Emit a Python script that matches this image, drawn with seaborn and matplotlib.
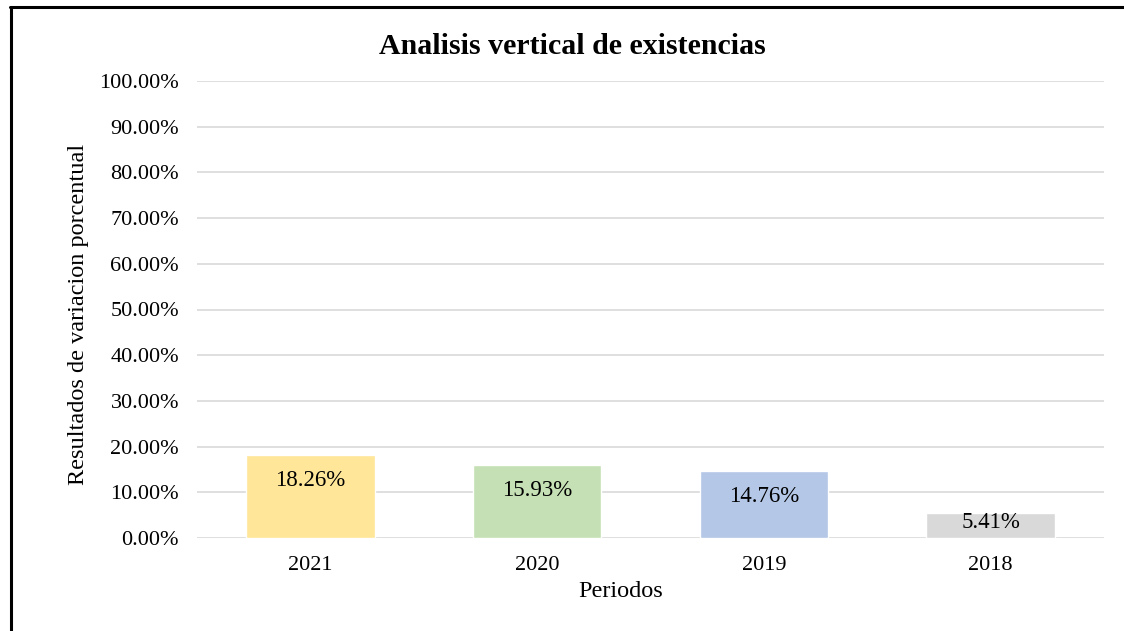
import matplotlib
matplotlib.use("Agg")
import matplotlib.pyplot as plt
import seaborn as sns
import pandas as pd
from matplotlib.lines import Line2D
from matplotlib.ticker import FuncFormatter, MultipleLocator

periodos = ["2021", "2020", "2019", "2018"]
valores = [18.26, 15.93, 14.76, 5.41]
colores = ["#FFE699", "#C5E0B4", "#B4C7E7", "#D9D9D9"]

sns.set_theme(style="white")
plt.rcParams["font.family"] = ["Liberation Serif", "DejaVu Serif"]

df = pd.DataFrame({"Periodo": periodos, "Valor": valores})

fig = plt.figure(figsize=(11.24, 6.31), dpi=100)
ax = fig.add_axes([197/1124, 1 - 538/631, (1104-197)/1124, (538-81)/631])

sns.barplot(data=df, x="Periodo", y="Valor", hue="Periodo", palette=colores,
            order=periodos, hue_order=periodos, legend=False, width=0.566,
            saturation=1, ax=ax, zorder=2)

ax.set_ylim(0, 100)
ax.yaxis.set_major_locator(MultipleLocator(10))
ax.yaxis.set_major_formatter(FuncFormatter(lambda v, p: f"{v:.2f}%"))
ax.grid(axis="y", color="#d9d9d9", linewidth=1.2, zorder=0)
ax.set_axisbelow(True)
for s in ax.spines.values():
    s.set_visible(False)
ax.tick_params(axis="both", length=0, labelsize=16, colors="black")
ax.tick_params(axis="y", pad=13)
ax.tick_params(axis="x", pad=13)
ax.set_xlim(-0.5, 3.5)

ax.set_xlabel("Periodos", fontsize=17.5, color="black")
ax.xaxis.set_label_coords((621-197)/907, -0.093)
ax.set_ylabel("Resultados de variacion porcentual", fontsize=17.5, color="black")
ax.yaxis.set_label_coords(-(197-89)/907, 0.49)

for i, v in enumerate(valores):
    if v > 10:
        ax.annotate(f"{v:.2f}%", (i, v), xytext=(0, -11), textcoords="offset points",
                    ha="center", va="top", fontsize=16.5, color="black")
    else:
        ax.annotate(f"{v:.2f}%", (i, v), xytext=(0, 1), textcoords="offset points",
                    ha="center", va="top", fontsize=16.5, color="black")

fig.text(572/1124, 1 - 47/631, "Analisis vertical de existencias", ha="center", va="center",
         fontsize=21.5, fontweight="bold", color="black")

# outer frame (left and top edges visible)
fig.add_artist(Line2D([11/1124, 11/1124], [0, 1 - 7/631], transform=fig.transFigure, color="black", linewidth=2.2))
fig.add_artist(Line2D([10/1124, 1], [1 - 7/631, 1 - 7/631], transform=fig.transFigure, color="black", linewidth=2.2))

fig.savefig("out.png", dpi=100)
